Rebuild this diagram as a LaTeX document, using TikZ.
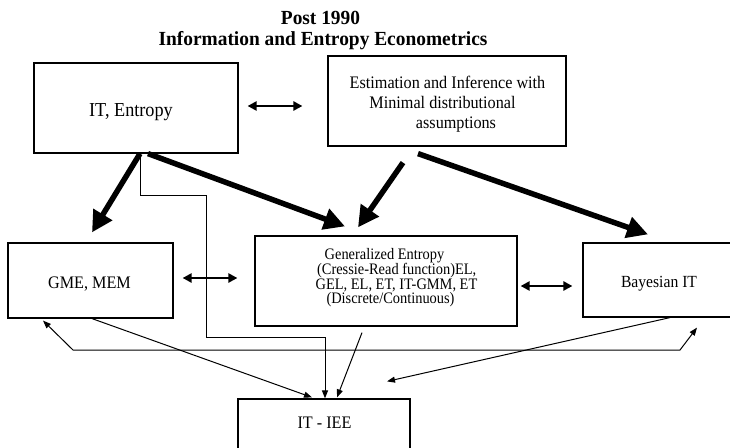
\documentclass[tikz,border=0pt]{standalone}
\usepackage{fontspec}
\setmainfont{Liberation Serif}[FakeStretch=0.92]
\newfontfamily\genfont{Liberation Serif}[FakeStretch=0.9]
\newfontfamily\titlefont{Liberation Serif}[FakeStretch=0.97]
\usetikzlibrary{arrows.meta}
\begin{document}
\begin{tikzpicture}[x=1pt,y=-1pt,
  box/.style={draw, line width=1.2pt, inner sep=0pt},
  txt/.style={inner sep=0pt, anchor=base},
  gentxt/.style={txt, font=\genfont\fontsize{16}{14.8}\selectfont},
  bigarrow/.style={line width=5.5pt, -{Triangle[length=21pt,width=21pt]}},
  dbl/.style={line width=2.4pt, {Triangle[length=9pt,width=9pt]}-{Triangle[length=9pt,width=9pt]}},
  thinarrow/.style={line width=1pt, -{Triangle[length=8pt,width=6pt]}},
  thinboth/.style={line width=1pt, {Triangle[length=8pt,width=6pt]}-{Triangle[length=8pt,width=6pt]}}]
\useasboundingbox (0,0) rectangle (730,447);
\clip (0,0) rectangle (730,447);

% title
\node[txt, font=\titlefont\fontsize{20}{22}\selectfont\bfseries] (t1) at (320.5,24.5) {Post 1990};
\node[txt, font=\titlefont\fontsize{20}{22}\selectfont\bfseries] (t2) at (323,45.5) {Information and Entropy Econometrics};

% boxes
\node[box, minimum width=204pt, minimum height=90pt] (it) at (136,108) {};
\node[box, minimum width=238pt, minimum height=90pt] (est) at (447,101) {};
\node[box, minimum width=165pt, minimum height=75pt] (gme) at (90.5,280.5) {};
\node[box, minimum width=262pt, minimum height=90pt] (gen) at (386,281) {};
\node[box, minimum width=152pt, minimum height=74pt] (bayes) at (659,280) {};
\node[box, minimum width=172pt, minimum height=62pt] (iee) at (324,430) {};

% box texts
\node[txt, font=\fontsize{19.8}{22}\selectfont] (itt) at (131,116.5) {IT, Entropy};
\node[txt, font=\fontsize{17.6}{20}\selectfont] (est1) at (447.5,88.3) {Estimation and Inference with};
\node[txt, font=\fontsize{17.6}{20}\selectfont] (est2) at (442.5,108.3) {Minimal distributional};
\node[txt, font=\fontsize{17.6}{20}\selectfont] (est3) at (456,128.3) {assumptions};
\node[txt, font=\fontsize{17.6}{20}\selectfont] (gmet) at (89.5,288.3) {GME, MEM};
\node[gentxt] (gen1) at (384.5,259.5) {Generalized Entropy};
\node[gentxt] (gen2) at (396.7,274.3) {(Cressie-Read function)EL,};
\node[gentxt] (gen3) at (396.5,289.1) {GEL, EL, ET, IT-GMM, ET};
\node[gentxt] (gen4) at (390.5,303.9) {(Discrete/Continuous)};
\node[txt, font=\fontsize{17}{19}\selectfont] (bayest) at (659,287.3) {Bayesian IT};
\node[txt, font=\fontsize{17.6}{19}\selectfont] (ieet) at (324.5,428.3) {IT - IEE};

% double arrows
\draw[dbl] ([shift={(9,-2)}]it.east) -- ([shift={(-25,5)}]est.west);
\draw[dbl] ([shift={(9,-2.5)}]gme.east) -- ([shift={(-17,-3)}]gen.west);
\draw[dbl] ([shift={(3,5)}]gen.east) -- ([shift={(-10,6)}]bayes.west);

% thick arrows
\draw[bigarrow] ([shift={(4,0)}]it.south) -- ([shift={(1.5,-10)}]gme.north);
\draw[bigarrow] ([shift={(12,0)}]it.south) -- ([shift={(-41,-9)}]gen.north);
\draw[bigarrow] ([shift={(-44,16)}]est.south) -- ([shift={(-28,-8)}]gen.north);
\draw[bigarrow] ([shift={(-29,7)}]est.south) -- ([shift={(-11,-8)}]bayes.north);

% thin connectors
\coordinate (c1) at (206,337);
\coordinate (c2) at (73,350);
\coordinate (c3) at (680,350);
\draw[thinarrow] ([shift={(4,0)}]it.south) -- ++(0,42) -| (c1) -| ([shift={(1,0)}]iee.north);
\draw[thinarrow] ([shift={(-24,6)}]gen.south) -- ([shift={(13,-1)}]iee.north);
\draw[thinarrow] ([shift={(1.5,0)}]gme.south) -- ([shift={(-12,-1)}]iee.north);
\draw[thinboth] ([shift={(-47.5,2)}]gme.south) -- (c2) -- (c3) -- ([shift={(38,10)}]bayes.south);
\draw[thinarrow] ([shift={(11,0)}]bayes.south) -- ([shift={(63,-17)}]iee.north);
\end{tikzpicture}
\end{document}
